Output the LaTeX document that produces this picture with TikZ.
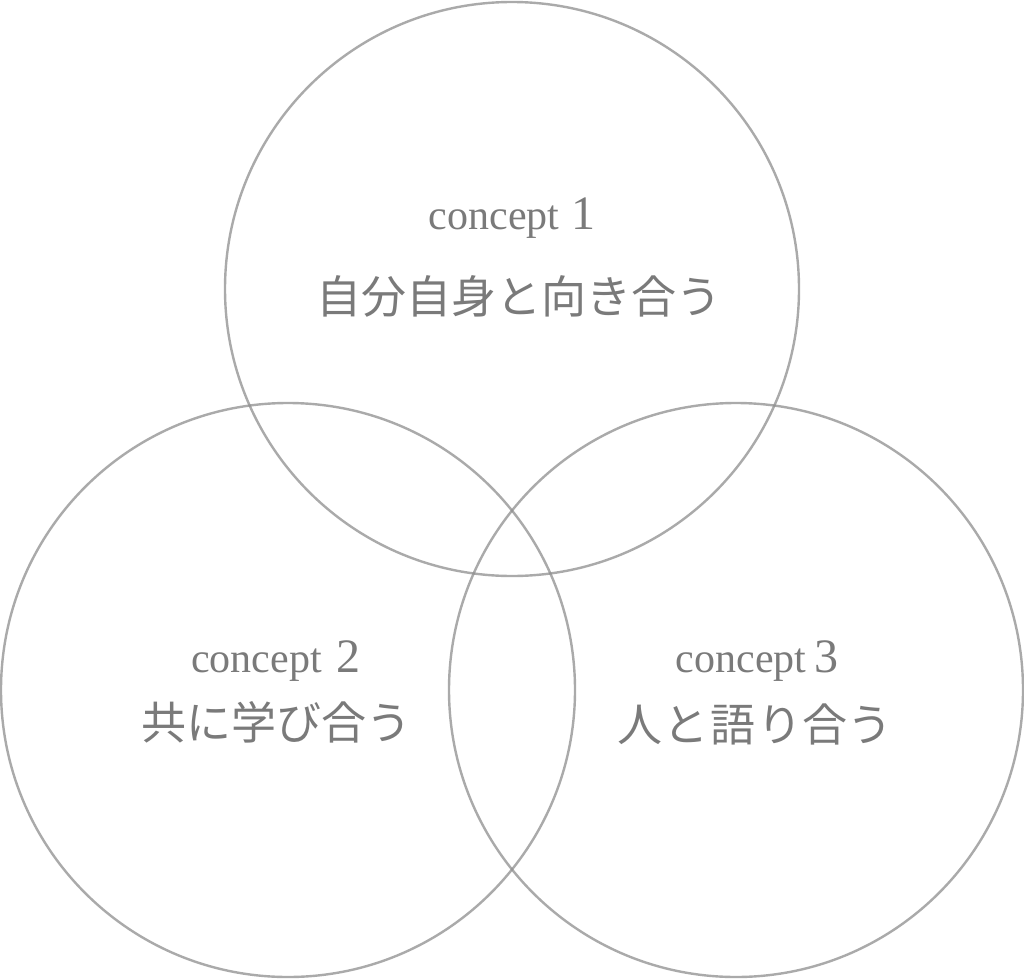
\documentclass[tikz,border=0pt]{standalone}
\usepackage{fontspec}
\setmainfont{Liberation Serif}
\newfontfamily\cjk{Noto Sans CJK JP}
\definecolor{txt}{HTML}{7A7A7A}
\definecolor{ring}{HTML}{8E8E8E}
\begin{document}
\begin{tikzpicture}[x=1pt,y=-1pt,
  ringstyle/.style={draw=ring, draw opacity=0.75, line width=2.4pt},
  conc/.style={text=txt, font=\fontsize{42}{42}\selectfont, anchor=base, inner sep=0pt},
  jp/.style={text=txt, font=\cjk\fontsize{45}{45}\selectfont, inner sep=0pt}]
\useasboundingbox (0,0) rectangle (1024,979);
\fill[white] (0,0) rectangle (1024,979);
\draw[ringstyle] (288,690) circle[radius=287];
\draw[ringstyle] (736,690) circle[radius=287];
\draw[ringstyle] (512,289) circle[radius=287];
\node[conc] (c1) at (512,229) {concept\hspace{12pt}{\fontsize{48}{48}\selectfont 1}};
\node[jp] (j1) at (519,296) {自分自身と向き合う};
\node[conc] (c2) at (276,672) {concept\hspace{15pt}{\fontsize{48}{48}\selectfont 2}};
\node[jp] (j2) at (276,722) {共に学び合う};
\node[conc] (c3) at (757,672) {concept\hspace{8pt}{\fontsize{48}{48}\selectfont 3}};
\node[jp] (j3) at (755,724) {人\hspace{2pt}と\hspace{2pt}語\hspace{2pt}り合う};
\end{tikzpicture}
\end{document}
